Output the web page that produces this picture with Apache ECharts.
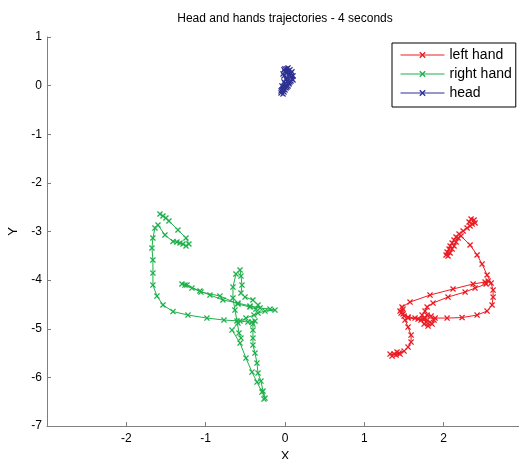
<!DOCTYPE html>
<html>
<head>
<meta charset="utf-8">
<script src="https://cdn.jsdelivr.net/npm/echarts@6/dist/echarts.min.js"></script>
<style>
  html, body { margin: 0; padding: 0; background: #ffffff; }
  #chart { width: 519px; height: 459px; }
</style>
</head>
<body>
<div id="chart"></div>
<script>
// Trajectories of the left hand, right hand and head over 4 seconds (x / y positions).
const seriesNames = ['left hand', 'right hand', 'head'];
const seriesColors = ['#ed1c24', '#1fb14c', '#2e3192'];

const leftHandX = [2.383,2.345,2.320,2.358,2.396,2.333,2.295,2.245,2.194,2.156,
  2.131,2.106,2.081,2.068,2.043,2.030,2.055,2.081,2.106,2.131,
  2.156,2.182,2.219,2.333,2.421,2.484,2.547,2.598,2.623,2.623,
  2.610,2.547,2.421,2.232,2.043,1.892,1.765,1.639,1.551,1.488,
  1.450,1.488,1.463,1.501,1.475,1.576,1.828,2.118,2.371,2.522,
  2.560,2.535,2.396,2.270,2.055,1.866,1.791,1.765,1.728,1.715,
  1.753,1.803,1.854,1.879,1.841,1.791,1.753,1.778,1.828,1.677,
  1.551,1.513,1.551,1.589,1.589,1.551,1.501,1.438,1.375,1.324,
  1.349,1.400,1.450,1.412];
const leftHandY = [-2.763,-2.743,-2.805,-2.846,-2.825,-2.887,-2.928,-2.990,-3.051,-3.113,
  -3.175,-3.237,-3.298,-3.360,-3.422,-3.483,-3.504,-3.442,-3.360,-3.298,
  -3.216,-3.134,-3.093,-3.278,-3.483,-3.669,-3.895,-4.060,-4.204,-4.348,
  -4.512,-4.636,-4.718,-4.770,-4.780,-4.780,-4.780,-4.780,-4.759,-4.697,
  -4.636,-4.595,-4.677,-4.739,-4.553,-4.451,-4.307,-4.183,-4.080,-4.039,
  -4.018,-4.080,-4.163,-4.245,-4.348,-4.471,-4.553,-4.636,-4.718,-4.821,
  -4.903,-4.944,-4.903,-4.821,-4.739,-4.718,-4.780,-4.862,-4.862,-4.800,
  -4.780,-4.821,-4.965,-5.130,-5.274,-5.377,-5.459,-5.500,-5.521,-5.521,
  -5.562,-5.541,-5.521,-5.479];

const rightHandX = [-1.576,-1.538,-1.501,-1.463,-1.349,-1.248,-1.211,-1.248,-1.286,-1.324,
  -1.362,-1.412,-1.513,-1.601,-1.639,-1.665,-1.677,-1.665,-1.665,-1.665,
  -1.614,-1.538,-1.412,-1.223,-0.984,-0.769,-0.567,-0.467,-0.416,-0.378,
  -0.404,-0.404,-0.404,-0.404,-0.378,-0.353,-0.340,-0.303,-0.277,-0.252,
  -0.265,-0.290,-0.353,-0.416,-0.492,-0.567,-0.668,-0.593,-0.492,-0.391,
  -0.340,-0.252,-0.126,-0.189,-0.315,-0.441,-0.593,-0.782,-0.946,-1.072,
  -1.236,-1.299,-1.261,-1.173,-1.059,-0.820,-0.593,-0.441,-0.366,-0.340,
  -0.404,-0.504,-0.555,-0.542,-0.555,-0.567,-0.618,-0.656,-0.656,-0.631,
  -0.605,-0.580,-0.555];
const rightHandY = [-2.640,-2.681,-2.722,-2.784,-2.969,-3.134,-3.257,-3.298,-3.257,-3.237,
  -3.216,-3.206,-3.072,-2.866,-2.928,-3.134,-3.339,-3.586,-3.854,-4.101,
  -4.327,-4.512,-4.646,-4.718,-4.780,-4.821,-4.841,-4.862,-4.862,-4.841,
  -4.903,-5.027,-5.191,-5.335,-5.500,-5.706,-5.911,-6.076,-6.282,-6.426,
  -6.447,-6.302,-6.097,-5.891,-5.603,-5.294,-5.027,-4.883,-4.780,-4.718,
  -4.677,-4.636,-4.615,-4.595,-4.574,-4.533,-4.471,-4.409,-4.307,-4.224,
  -4.101,-4.080,-4.101,-4.163,-4.245,-4.327,-4.492,-4.553,-4.595,-4.512,
  -4.409,-4.348,-4.265,-4.101,-3.916,-3.792,-3.874,-4.142,-4.368,-4.615,
  -4.841,-5.088,-5.191];

const headX = [-0.013,0.025,0.063,0.088,0.050,0.013,-0.013,0.025,0.076,0.101,
  0.063,0.025,0.000,0.038,0.013,-0.025,-0.038,-0.013,-0.050,-0.025,
  0.013,0.050,0.088,0.063,0.038,0.000,-0.025,0.013,-0.013,-0.038,
  -0.050,-0.025,0.000,0.025,0.050,0.076,0.101,0.076,0.038,0.000];
const headY = [0.324,0.345,0.324,0.283,0.241,0.262,0.200,0.159,0.180,0.118,
  0.077,0.097,0.035,-0.006,-0.047,-0.027,-0.088,-0.130,-0.150,-0.068,
  0.015,0.056,0.138,0.221,0.303,0.283,0.241,0.138,0.077,-0.006,
  -0.109,-0.171,-0.088,-0.027,0.035,0.097,0.200,0.262,0.365,0.345];

const FONT = '"Liberation Sans", Arial, Helvetica, sans-serif';
const AXIS_GREY = '#7f7f7f';
// "x" shaped marker drawn as a filled cross
const X_MARK = 'path://M0,1.5L1.5,0L5,3.5L8.5,0L10,1.5L6.5,5L10,8.5L8.5,10L5,6.5L1.5,10L0,8.5L3.5,5Z';

function zip(xs, ys) { return xs.map((x, i) => [x, ys[i]]); }
const trajectories = [zip(leftHandX, leftHandY), zip(rightHandX, rightHandY), zip(headX, headY)];

const chart = echarts.init(document.getElementById('chart'), null, { renderer: 'canvas' });
chart.setOption({
  animation: false,
  backgroundColor: '#ffffff',
  title: {
    text: 'Head and hands trajectories - 4 seconds',
    left: 285, top: 13, textAlign: 'center', padding: 0,
    textStyle: { fontFamily: FONT, fontSize: 12, fontWeight: 'normal', color: '#000' }
  },
  legend: {
    orient: 'vertical',
    left: 392, top: 43,
    padding: [5, 4, 7, 8],
    itemGap: 5,
    itemWidth: 44, itemHeight: 8,
    backgroundColor: '#ffffff',
    borderColor: '#000000', borderWidth: 1,
    lineStyle: { width: 1 },
    textStyle: { fontFamily: FONT, fontSize: 14, color: '#000' },
    data: seriesNames
  },
  grid: { left: 47, right: -4, top: 37, bottom: 33, containLabel: false, outerBoundsMode: 'none' },
  xAxis: {
    type: 'value', min: -3, max: 3, interval: 1,
    name: 'X', nameLocation: 'middle', nameGap: 15,
    nameTextStyle: { fontFamily: FONT, fontSize: 13, color: '#000' },
    axisLine: { show: true, onZero: false, lineStyle: { color: AXIS_GREY, width: 1 } },
    axisTick: { show: true, inside: true, length: 4, lineStyle: { color: AXIS_GREY } },
    axisLabel: {
      fontFamily: FONT, fontSize: 12, color: '#000', margin: 7,
      formatter: v => (v <= -3 || v >= 3) ? '' : String(v)
    },
    splitLine: { show: false }
  },
  yAxis: {
    type: 'value', min: -7, max: 1, interval: 1,
    name: 'Y', nameLocation: 'middle', nameGap: 27, nameRotate: 90,
    nameTextStyle: { fontFamily: FONT, fontSize: 13, color: '#000' },
    axisLine: { show: true, onZero: false, lineStyle: { color: AXIS_GREY, width: 1 } },
    axisTick: { show: true, inside: true, length: 4, lineStyle: { color: AXIS_GREY } },
    axisLabel: { fontFamily: FONT, fontSize: 12, color: '#000', margin: 5 },
    splitLine: { show: false }
  },
  series: seriesNames.map((name, i) => ({
    name: name,
    type: 'line',
    data: trajectories[i],
    symbol: X_MARK,
    symbolSize: 6,
    showSymbol: true,
    lineStyle: { color: seriesColors[i], width: 1 },
    itemStyle: { color: seriesColors[i] },
    emphasis: { disabled: true },
    z: 2 + i
  }))
});
</script>
</body>
</html>
